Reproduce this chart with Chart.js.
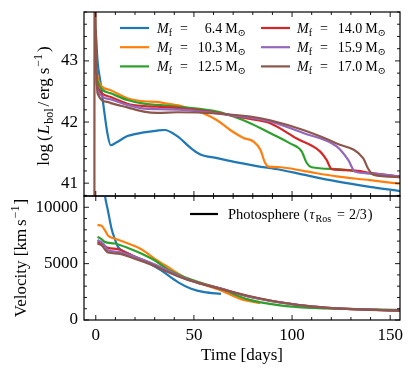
<!DOCTYPE html>
<html>
<head>
<meta charset="utf-8">
<script src="https://cdn.jsdelivr.net/npm/chart.js@4"></script>
<style>
  html, body { margin: 0; padding: 0; background: #fff; }
  #wrap { position: relative; width: 415px; height: 376px; }
  canvas { position: absolute; left: 0; }
</style>
</head>
<body>
<div id="wrap">
  <canvas id="lumChart" width="415" height="200" style="top:0"></canvas>
  <canvas id="velChart" width="415" height="186" style="top:190px"></canvas>
</div>
<script>
// ===== data =====
const masses = ["6.4", "10.3", "12.5", "14.0", "15.9", "17.0"];
const colors = ["#1f77b4", "#ff7f0e", "#2ca02c", "#d62728", "#9467bd", "#8c564b"];

const timeTicks = [0, 50, 100, 150];
const lumTicks = [41, 42, 43];
const velTicks = [0, 5000, 10000];

// bolometric light curves, log(L / erg s^-1)
const tL_64  = [0, 0.9, 2.5, 4.2, 5.9, 7.6, 10.2, 16.1, 24.5, 31.3, 35, 41.5, 48.2, 53.3, 61.8, 71.9, 82, 93.9, 105.7, 122.7, 139.6, 155];
const L_64   = [43.5, 43.0, 42.63, 42.2, 41.82, 41.62, 41.66, 41.77, 41.83, 41.86, 41.87, 41.77, 41.58, 41.47, 41.41, 41.34, 41.28, 41.22, 41.14, 41.03, 40.94, 40.87];
const tL_103 = [0.3, 0.9, 2.5, 7.6, 16.1, 24.5, 31.3, 34.7, 44.8, 55, 61.8, 68.5, 75.3, 80.4, 83.8, 86.3, 88, 93.9, 105.7, 122.7, 139.6, 155];
const L_103  = [42.88, 42.74, 42.6, 42.52, 42.39, 42.34, 42.33, 42.31, 42.25, 42.14, 42.03, 41.87, 41.74, 41.68, 41.55, 41.33, 41.27, 41.26, 41.2, 41.11, 41.05, 40.99];
const tL_125 = [0.3, 0.9, 7.6, 16.1, 24.5, 31.3, 44.8, 61.8, 70.2, 78.7, 88.8, 99, 104.9, 107.5, 110, 122.7, 139.6, 155];
const L_125  = [42.8, 42.66, 42.47, 42.36, 42.3, 42.28, 42.24, 42.17, 42.09, 41.98, 41.82, 41.65, 41.52, 41.33, 41.26, 41.23, 41.16, 41.1];
const tL_140 = [0.3, 0.9, 7.6, 16.1, 24.5, 31.3, 44.8, 61.8, 78.7, 88.8, 102.4, 114.2, 117.6, 120.2, 131.1, 139.6, 155];
const L_140  = [42.72, 42.58, 42.41, 42.3, 42.26, 42.25, 42.22, 42.15, 42.05, 41.98, 41.73, 41.52, 41.38, 41.23, 41.21, 41.17, 41.11];
const tL_159 = [0.3, 0.9, 7.6, 16.1, 24.5, 31.3, 44.8, 61.8, 78.7, 88.8, 105.7, 122.7, 128.6, 132, 139.6, 155];
const L_159  = [42.66, 42.52, 42.37, 42.28, 42.22, 42.21, 42.2, 42.14, 42.07, 42.01, 41.82, 41.6, 41.38, 41.19, 41.16, 41.11];
const tL_170 = [-0.7, -0.65, 0.3, 0.9, 5.9, 7.6, 16.1, 24.5, 31.3, 41.5, 61.8, 78.7, 88.8, 105.7, 122.7, 136.2, 138.7, 141.3, 155];
const L_170  = [40.0, 44.5, 43.0, 42.47, 42.33, 42.31, 42.24, 42.17, 42.15, 42.16, 42.14, 42.09, 42.03, 41.87, 41.65, 41.41, 41.24, 41.14, 41.1];

// photospheric velocity, km/s
const tV_64  = [3, 4.6, 6.3, 8.0, 9.6, 11.3, 14, 20, 28, 33.3, 41.8, 48.6, 55.3, 63.8];
const V_64   = [13500, 11100, 9610, 8125, 7230, 6485, 6100, 5600, 4950, 4400, 3360, 2770, 2466, 2320];
const tV_103 = [0.85, 2.9, 4.6, 6.3, 9.6, 16.4, 23.2, 29.9, 36.7, 45.2, 53.6, 63.5, 73.6, 83.8];
const V_103  = [8420, 8360, 7975, 7465, 7230, 6786, 6280, 5447, 4700, 3800, 3214, 2650, 1875, 1500];
const tV_125 = [0.85, 2.9, 4.6, 9.6, 16.4, 23.2, 29.9, 36.7, 43.1, 53.6, 63.8, 77, 93.9, 110.8, 127.8, 151.4, 155];
const V_125  = [7376, 7170, 6930, 6786, 6394, 5893, 5295, 4492, 3950, 3300, 2768, 1850, 1300, 1071, 982, 893, 890];
const tV_140 = [0.85, 3.7, 6.3, 11.3, 19.8, 28.3, 36.7, 45.2, 53.6, 63.8, 77, 93.9, 110.8, 127.8, 155];
const V_140  = [6930, 6700, 6394, 6280, 5625, 5000, 4300, 3700, 3230, 2780, 2120, 1560, 1180, 980, 840];
const tV_159 = [0.85, 3.7, 6.3, 11.3, 19.8, 28.3, 36.7, 45.2, 53.6, 63.8, 77, 93.9, 110.8, 127.8, 155];
const V_159  = [7100, 6786, 6190, 6040, 5600, 5060, 4400, 3700, 3220, 2770, 2130, 1560, 1180, 980, 840];
const tV_170 = [0.85, 2.9, 6.3, 11.3, 19.8, 28.3, 36.7, 45.2, 53.6, 60, 77, 93.9, 110.8, 127.8, 153, 155];
const V_170  = [6786, 6634, 5983, 5893, 5447, 4911, 4250, 3661, 3214, 2911, 2170, 1572, 1188, 982, 830, 825];

const lumSeries = [[tL_64, L_64], [tL_103, L_103], [tL_125, L_125], [tL_140, L_140], [tL_159, L_159], [tL_170, L_170]];
const velSeries = [[tV_64, V_64], [tV_103, V_103], [tV_125, V_125], [tV_140, V_140], [tV_159, V_159], [tV_170, V_170]];

// ===== helpers =====
const FONT = "'Liberation Serif', 'DejaVu Serif', serif";

function pts(ts, vs) {
  return ts.map((t, i) => ({ x: t, y: vs[i] }));
}

function makeDatasets(series) {
  return series.map((s, i) => ({
    data: pts(s[0], s[1]),
    borderColor: colors[i],
    borderWidth: 2.2,
    pointRadius: 0,
    fill: false,
    cubicInterpolationMode: "monotone",
    order: 5 - i // later models on top, like matplotlib
  }));
}

// draw text pieces one after the other (for sub/superscripts)
function rich(ctx, parts, x, y, measureOnly) {
  let cx = x;
  for (const p of parts) {
    cx += p.gap || 0;
    ctx.font = (p.it ? "italic " : "") + p.s + "px " + FONT;
    if (!measureOnly) ctx.fillText(p.t, cx, y + (p.dy || 0));
    cx += ctx.measureText(p.t).width;
  }
  return cx - x;
}

// spines + inward ticks on all four sides
const frame = {
  id: "frame",
  afterDraw(chart, args, opts) {
    const { ctx, chartArea: a, scales: { x, y } } = chart;
    ctx.save();
    ctx.strokeStyle = "#000";
    ctx.lineWidth = 0.9;
    const tick = (px, py, dx, dy) => {
      ctx.beginPath();
      ctx.moveTo(px, py);
      ctx.lineTo(px + dx, py + dy);
      ctx.stroke();
    };
    for (let v = 0; v <= 150; v += 10) {
      const px = x.getPixelForValue(v);
      const len = v % 50 === 0 ? 5 : 3;
      tick(px, a.bottom, 0, -len);
      tick(px, a.top, 0, len);
    }
    const k0 = Math.ceil(y.min / opts.minor - 1e-9);
    const k1 = Math.floor(y.max / opts.minor + 1e-9);
    for (let k = k0; k <= k1; k++) {
      const v = k * opts.minor;
      const major = Math.abs(v / opts.major - Math.round(v / opts.major)) < 1e-6;
      const py = y.getPixelForValue(v);
      const len = major ? 5 : 3;
      tick(a.left, py, len, 0);
      tick(a.right, py, -len, 0);
    }
    ctx.lineWidth = 1.2;
    ctx.strokeRect(a.left, a.top, a.right - a.left, a.bottom - a.top);
    ctx.fillStyle = "#000";
    ctx.textBaseline = "alphabetic";
    opts.texts(ctx, chart);
    ctx.restore();
  }
};

function noPad(s) {
  s.paddingTop = 0;
  s.paddingBottom = 0;
  s.paddingLeft = 0;
  s.paddingRight = 0;
}

function yScale(min, max, labels) {
  return {
    min: min,
    max: max,
    afterFit: s => { s.width = 84; noPad(s); },
    afterBuildTicks: s => { s.ticks = labels.map(v => ({ value: v })); },
    ticks: { color: "#000", font: { family: FONT, size: 17 }, padding: 6, callback: v => String(v) },
    grid: { display: false, drawTicks: false },
    border: { display: false }
  };
}

// ===== top panel: luminosity =====
function lumTexts(ctx) {
  // y title
  ctx.save();
  ctx.translate(49, 106);
  ctx.rotate(-Math.PI / 2);
  const title = [
    { t: "log", s: 17 }, { t: "(", s: 17, gap: 3 }, { t: "L", s: 17, it: true, gap: 1 },
    { t: "bol", s: 12, dy: 4, gap: 1 }, { t: "/", s: 17, gap: 2 }, { t: "erg", s: 17, gap: 2 },
    { t: "s", s: 17, gap: 4 }, { t: "\u22121", s: 12, dy: -7, gap: 1 }, { t: ")", s: 17, gap: 2 }
  ];
  const w = rich(ctx, title, 0, 0, true);
  rich(ctx, title, -w / 2, 0);
  ctx.restore();

  // legend, 2 columns x 3 rows
  masses.forEach((m, i) => {
    const col = Math.floor(i / 3), row = i % 3;
    const yy = 28 + row * 19.2;
    const hx = col === 0 ? 120 : 261;
    const tx = col === 0 ? 157 : 297;
    ctx.strokeStyle = colors[i];
    ctx.lineWidth = 2.2;
    ctx.beginPath();
    ctx.moveTo(hx, yy);
    ctx.lineTo(hx + 29, yy);
    ctx.stroke();
    const bl = yy + 4.5;
    rich(ctx, [{ t: "M", s: 14, it: true }, { t: "f", s: 10, dy: 3 }, { t: "=", s: 14, gap: 8 }], tx, bl);
    const num = [{ t: m, s: 14 }, { t: "M", s: 14, gap: 3 }, { t: "\u2299", s: 10, dy: 3 }];
    const w2 = rich(ctx, num, 0, 0, true);
    rich(ctx, num, tx + 89 - w2, bl);
  });
}

new Chart(document.getElementById("lumChart"), {
  type: "line",
  data: { datasets: makeDatasets(lumSeries) },
  options: {
    responsive: false,
    animation: false,
    devicePixelRatio: 1,
    layout: { padding: { top: 12, right: 15, bottom: 4, left: 0 } },
    plugins: {
      legend: { display: false },
      tooltip: { enabled: false },
      frame: { minor: 0.2, major: 1, texts: lumTexts }
    },
    scales: {
      x: { type: "linear", min: -6, max: 155, display: false },
      y: yScale(40.79, 43.8, lumTicks)
    }
  },
  plugins: [frame]
});

// ===== bottom panel: velocity =====
function velTexts(ctx) {
  ctx.save();
  ctx.translate(26, 68);
  ctx.rotate(-Math.PI / 2);
  const title = [
    { t: "Velocity [km", s: 17 }, { t: "s", s: 17, gap: 3 },
    { t: "\u22121", s: 12, dy: -7, gap: 1 }, { t: "]", s: 17, gap: 1 }
  ];
  const w = rich(ctx, title, 0, 0, true);
  rich(ctx, title, -w / 2, 0);
  ctx.restore();

  ctx.font = "17px " + FONT;
  ctx.textAlign = "center";
  ctx.fillText("Time [days]", 242, 170);
  ctx.textAlign = "left";

  ctx.strokeStyle = "#000";
  ctx.lineWidth = 2.2;
  ctx.beginPath();
  ctx.moveTo(190, 24);
  ctx.lineTo(218, 24);
  ctx.stroke();
  rich(ctx, [
    { t: "Photosphere", s: 14.5 }, { t: "(", s: 14.5, gap: 4 }, { t: "\u03c4", s: 14, it: true, gap: 1 },
    { t: "Ros", s: 10, dy: 3, gap: 1 }, { t: "=", s: 14, gap: 6 }, { t: "2/3", s: 14, gap: 4 }, { t: ")", s: 14.5, gap: 1 }
  ], 228, 28.5);
}

new Chart(document.getElementById("velChart"), {
  type: "line",
  data: { datasets: makeDatasets(velSeries) },
  options: {
    responsive: false,
    animation: false,
    devicePixelRatio: 1,
    layout: { padding: { top: 6, right: 15, bottom: 0, left: 0 } },
    plugins: {
      legend: { display: false },
      tooltip: { enabled: false },
      frame: { minor: 1000, major: 5000, texts: velTexts }
    },
    scales: {
      x: {
        type: "linear",
        min: -6,
        max: 155,
        afterFit: s => { s.height = 56; noPad(s); },
        afterBuildTicks: s => { s.ticks = timeTicks.map(v => ({ value: v })); },
        ticks: { color: "#000", font: { family: FONT, size: 17 }, padding: 5, maxRotation: 0 },
        grid: { display: false, drawTicks: false },
        border: { display: false }
      },
      y: yScale(0, 11000, velTicks)
    }
  },
  plugins: [frame]
});
</script>
</body>
</html>
